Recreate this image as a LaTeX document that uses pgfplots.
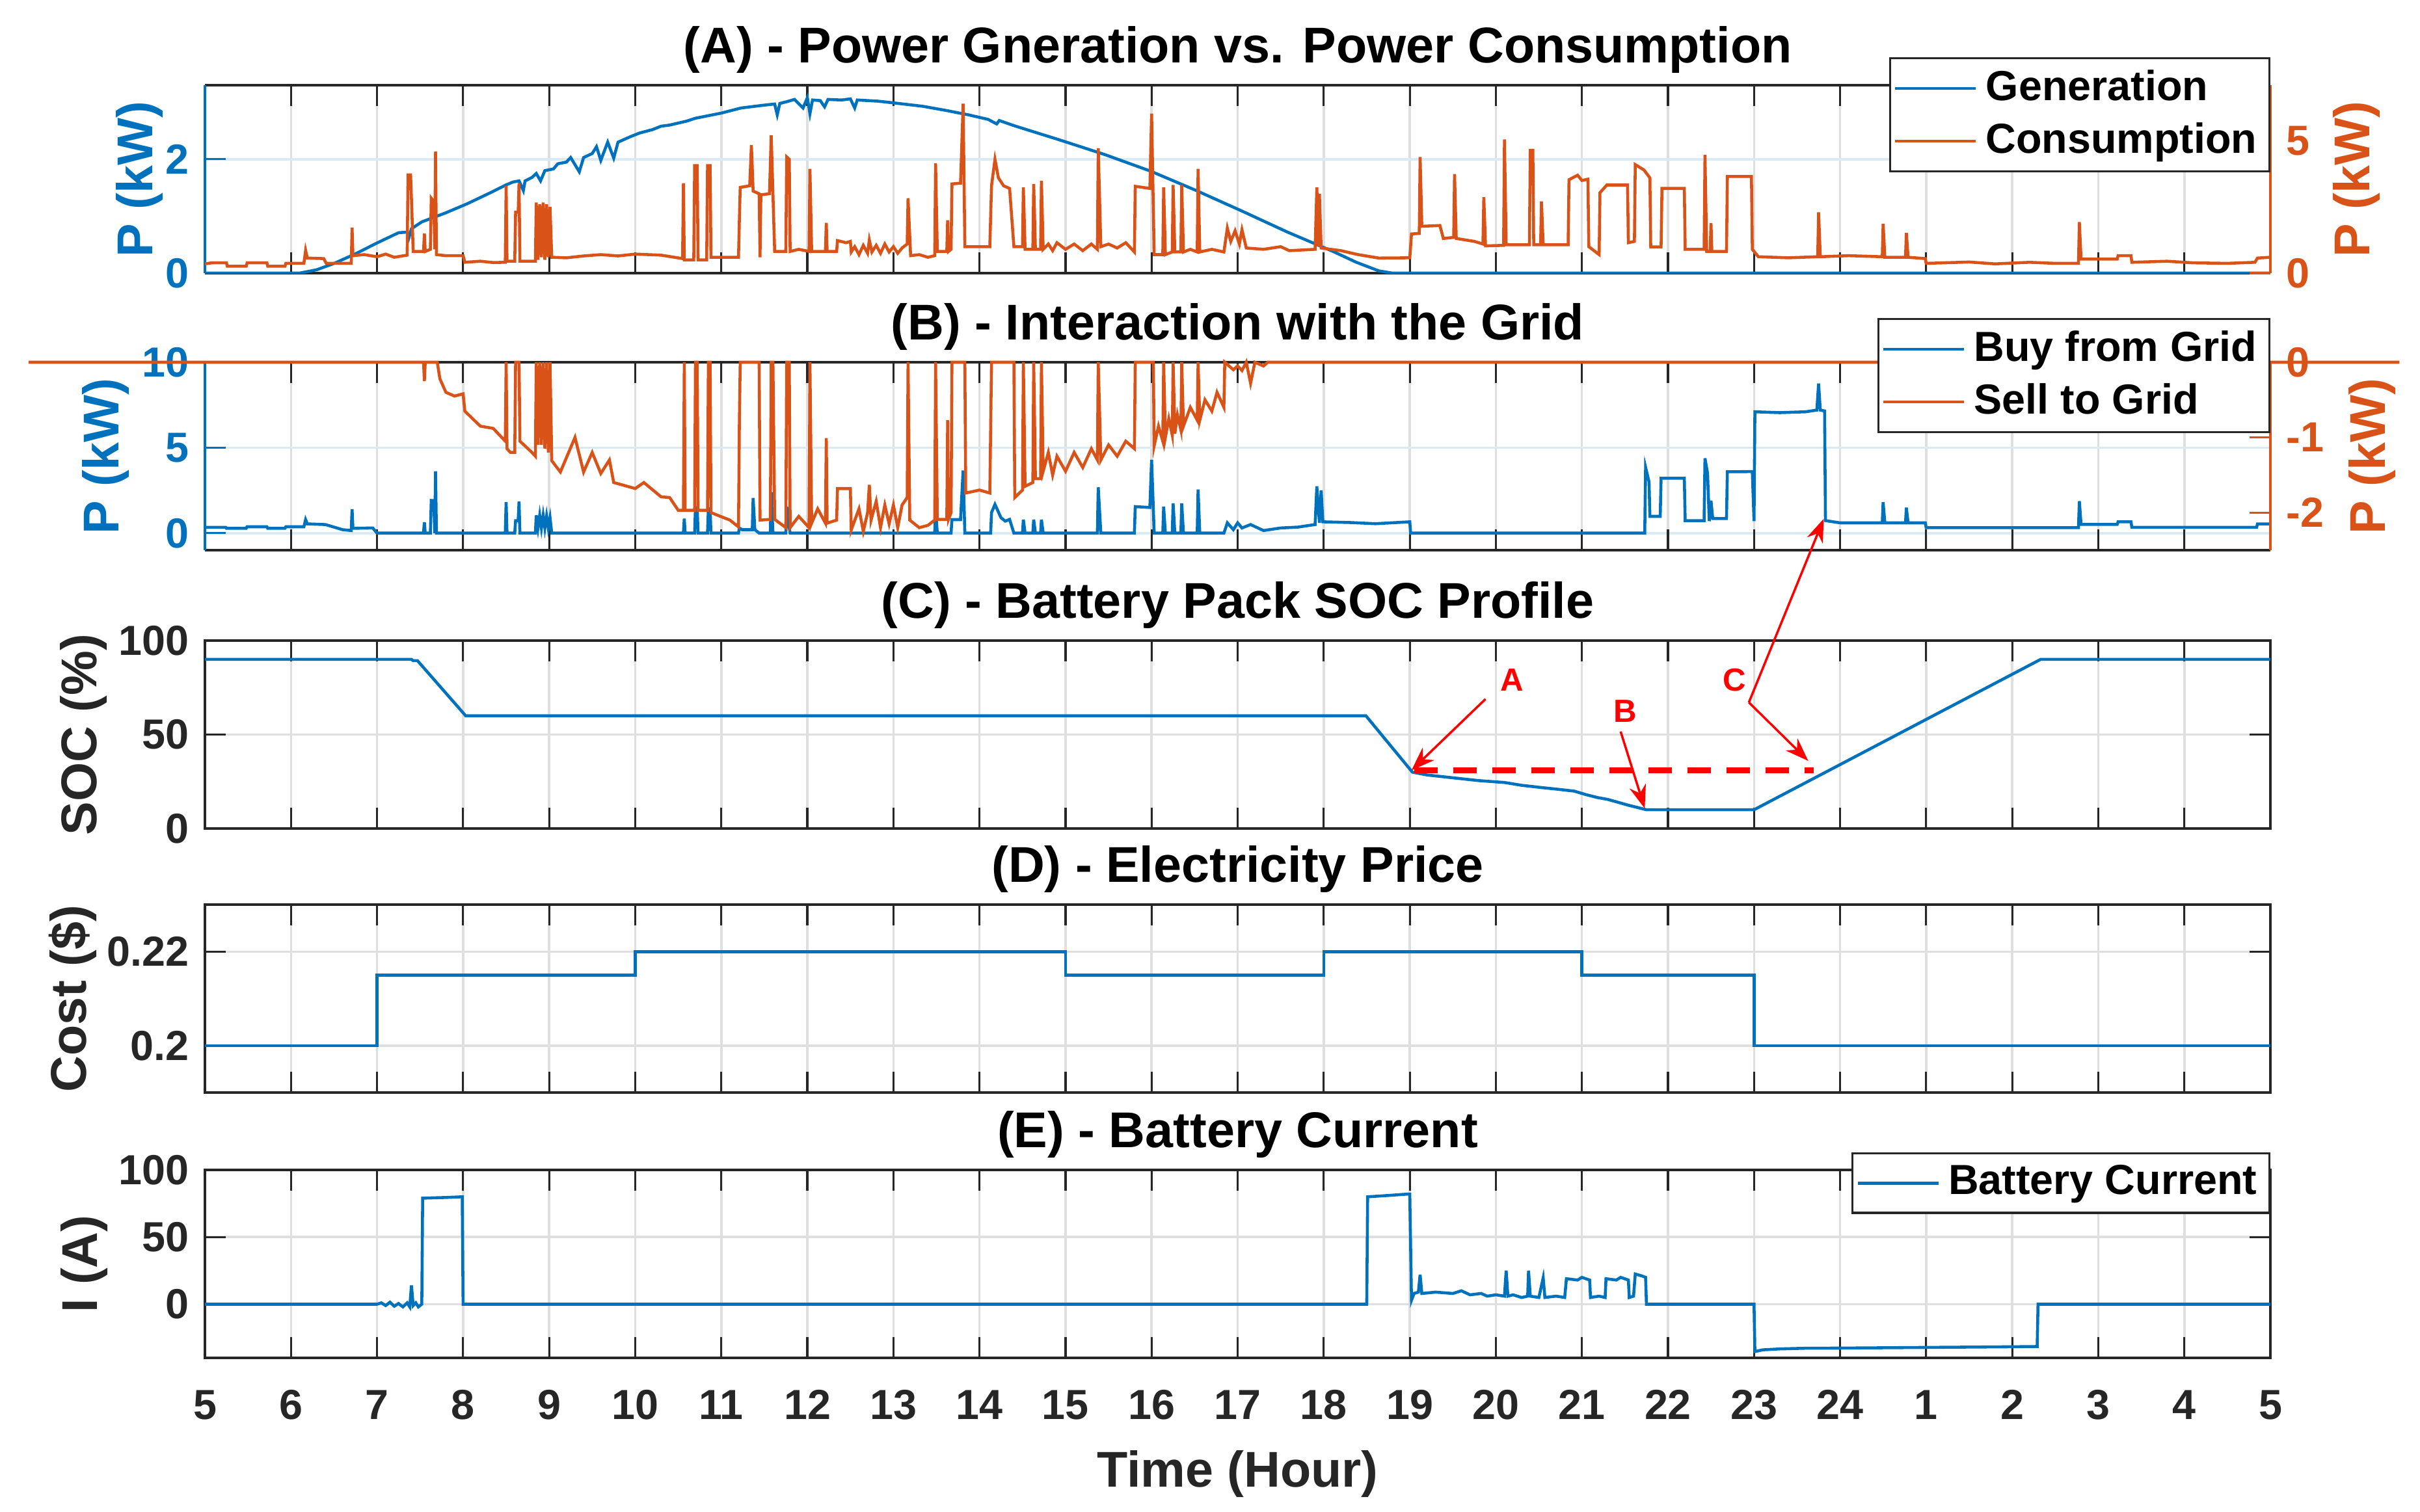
\documentclass[border=0pt]{standalone}
\usepackage{fontspec}
\setmainfont{Liberation Sans}
\usepackage{pgfplots}
\pgfplotsset{compat=1.18}
\usetikzlibrary{arrows.meta}

\definecolor{mblue}{rgb}{0,0.447,0.741}
\definecolor{morange}{rgb}{0.85,0.325,0.098}
\definecolor{axgray}{rgb}{0.15,0.15,0.15}
\definecolor{gridgray}{HTML}{DFDFDF}
\definecolor{gridblue}{HTML}{D9EAF5}

\pgfplotsset{
  panel/.style={
    scale only axis, width=158.75mm, height=14.45mm, anchor=south west,
    xmin=5, xmax=29, xtick={5,...,29}, xticklabels={},
    tick align=inside, major tick length=1.6mm,
    tick style={line width=0.45pt, color=axgray},
    axis line style={line width=0.45pt, draw=axgray},
    grid=major, grid style={line width=0.5pt, color=gridgray},
    tick label style={font=\fontsize{9.2}{11}\selectfont\bfseries, color=axgray},
    label style={font=\fontsize{11}{13}\selectfont\bfseries, color=axgray},
    ylabel style={inner sep=0pt},
    title style={font=\fontsize{11}{13}\selectfont\bfseries, at={(0.5,1)}, anchor=base, yshift=-0.4mm, color=black},
    legend style={at={(1,1)}, anchor=north east, draw=axgray, line width=0.45pt, fill=white,
      text=black, font=\fontsize{9.2}{11}\selectfont\bfseries,
      inner xsep=0.3mm, inner ysep=0.3mm, row sep=0pt,
      nodes={inner xsep=0.65mm, inner ysep=0.59mm}},
    legend cell align=left,
    legend image code/.code={\draw[#1] (0mm,0mm) -- (6.2mm,0mm);},
  },
  dline/.style={line width=0.65pt},
}

\begin{document}
\begin{tikzpicture}
\useasboundingbox (0,0) rectangle (186mm,116.2mm);

% ---------------- (A) generation vs consumption
\begin{axis}[panel, at={(15.75mm,95.2mm)},
  ymin=0, ymax=3.3, ytick={0,2}, yticklabels={0,2},
  axis x line*=box, axis y line*=left, separate axis lines,
  x axis line style={-}, y axis line style={-, draw=mblue},
  major y tick style={mblue}, yticklabel style={mblue},
  y grid style={gridblue},
  ylabel={P (kW)}, ylabel style={mblue, at={(axis description cs:-0.020,0.5)}, anchor=south},
  title={(A) - Power Gneration vs. Power Consumption}]
\addplot[mblue, dline] coordinates {
(5,0) (6.1,0) (6.3,0.06) (6.5,0.17) (6.75,0.34) (7.0,0.53) (7.25,0.71) (7.35,0.72) (7.37,0.62) (7.4,0.78)
(7.52,0.9) (7.8,1.06) (8.05,1.22) (8.3,1.4) (8.5,1.55) (8.58,1.6) (8.65,1.62) (8.7,1.45) (8.72,1.62)
(8.8,1.68) (8.85,1.75) (8.9,1.62) (8.95,1.8) (9.05,1.83) (9.1,1.92) (9.2,1.95) (9.25,2.03) (9.35,1.78)
(9.4,2.03) (9.5,2.1) (9.55,2.22) (9.6,1.98) (9.68,2.3) (9.75,2.02) (9.8,2.3) (9.95,2.4) (10.05,2.46)
(10.2,2.52) (10.3,2.58) (10.4,2.6) (10.6,2.67) (10.7,2.72) (11.0,2.81) (11.23,2.9) (11.5,2.95)
(11.62,2.97) (11.65,2.78) (11.68,2.98) (11.76,3.01) (11.85,3.05) (11.95,2.9) (12.0,3.08) (12.03,2.8)
(12.06,3.04) (12.15,3.03) (12.2,2.92) (12.24,3.05) (12.4,3.04) (12.5,3.06) (12.55,2.9) (12.58,3.04)
(12.82,3.02) (13.0,2.99) (13.34,2.93) (13.6,2.86) (13.87,2.78) (14.1,2.7) (14.2,2.62) (14.23,2.68)
(14.4,2.59) (14.93,2.34) (15.46,2.08) (15.99,1.79) (16.52,1.45) (17.05,1.09) (17.58,0.72) (18.11,0.38)
(18.38,0.19) (18.64,0.04) (18.8,0) (29,0)};
\end{axis}

\begin{axis}[panel, at={(15.75mm,95.2mm)}, hide x axis, grid=none,
  axis y line*=right, y axis line style={-, draw=morange},
  ymin=0, ymax=7.1, ytick={0,5}, yticklabels={0,5},
  major y tick style={morange}, yticklabel style={morange},
  ylabel={P (kW)}, ylabel style={morange, at={(axis description cs:1.0299,0.5)}, anchor=north},
  legend style={yshift=2.15mm}]
\addlegendimage{mblue, dline}
\addlegendentry{Generation}
\addplot[morange, dline] coordinates {
(5.0,0.35) (5.08,0.39) (5.25,0.39) (5.26,0.26) (5.48,0.26) (5.49,0.39) (5.72,0.39) (5.73,0.26) (5.93,0.26)
(5.94,0.37) (6.15,0.37) (6.17,0.86) (6.19,0.57) (6.38,0.55) (6.41,0.37) (6.70,0.37) (6.71,1.72) (6.72,0.66)
(6.85,0.7) (7.0,0.62) (7.1,0.72) (7.2,0.6) (7.35,0.68) (7.36,3.71) (7.39,3.71) (7.40,2.8) (7.42,0.82)
(7.54,0.82) (7.55,1.5) (7.56,0.82) (7.62,0.9) (7.63,2.83) (7.66,2.7) (7.67,0.9) (7.68,4.6) (7.69,0.7)
(7.8,0.66) (8.0,0.66) (8.02,0.41) (8.2,0.45) (8.35,0.4) (8.49,0.41) (8.50,3.3) (8.51,0.45) (8.60,0.45)
(8.61,2.3) (8.64,2.3) (8.65,3.4) (8.66,0.45) (8.84,0.45) (8.85,2.67) (8.87,0.5) (8.89,2.6) (8.91,0.6)
(8.93,2.67) (8.95,0.5) (8.97,2.6) (8.99,0.6) (9.01,2.5) (9.03,0.6) (9.2,0.58) (9.4,0.65) (9.6,0.7)
(9.8,0.65) (10.0,0.72) (10.3,0.68) (10.55,0.55) (10.56,3.4) (10.57,0.5) (10.68,0.5) (10.69,4.06)
(10.72,4.06) (10.73,0.5) (10.83,0.5) (10.84,4.06) (10.87,4.06) (10.88,0.6) (11.2,0.6) (11.21,2.0)
(11.22,3.24) (11.33,3.3) (11.35,4.84) (11.37,3.1) (11.44,3.0) (11.45,0.6) (11.46,2.96) (11.56,3.0)
(11.58,5.21) (11.60,3.0) (11.62,0.82) (11.75,0.82) (11.76,4.39) (11.79,4.3) (11.80,0.82) (11.9,0.9)
(12.02,0.82) (12.03,3.94) (12.05,0.82) (12.21,0.82) (12.22,1.9) (12.23,0.82) (12.34,0.82) (12.35,1.23)
(12.45,1.15) (12.5,1.2) (12.51,0.8) (12.55,1.0) (12.6,0.7) (12.65,1.05) (12.7,0.75) (12.72,1.25)
(12.75,0.8) (12.8,1.05) (12.85,0.75) (12.9,1.1) (12.95,0.8) (13.0,1.0) (13.05,0.75) (13.1,0.95)
(13.16,1.1) (13.17,2.83) (13.2,0.66) (13.3,0.7) (13.4,0.6) (13.48,0.66) (13.49,4.15) (13.51,0.82)
(13.62,0.82) (13.63,2.0) (13.64,0.82) (13.67,0.9) (13.68,3.37) (13.78,3.4) (13.81,6.4) (13.83,1.0)
(14.12,1.0) (14.14,3.3) (14.18,4.3) (14.22,3.6) (14.28,3.3) (14.35,3.2) (14.40,1.0) (14.5,1.0)
(14.51,3.24) (14.53,0.9) (14.62,0.9) (14.63,3.37) (14.65,0.9) (14.71,0.9) (14.72,3.49) (14.74,0.9)
(14.8,1.1) (14.85,0.85) (14.9,1.15) (15.0,0.9) (15.1,1.1) (15.2,0.85) (15.3,1.1) (15.37,0.9)
(15.38,4.72) (15.41,1.0) (15.5,1.1) (15.6,0.95) (15.7,1.15) (15.8,0.8) (15.81,3.28) (15.98,3.2)
(16.0,6.03) (16.03,0.7) (16.13,0.7) (16.14,3.24) (16.16,0.7) (16.24,0.8) (16.25,3.33) (16.27,0.8)
(16.34,0.8) (16.35,3.33) (16.37,0.8) (16.45,0.9) (16.53,0.8) (16.54,3.94) (16.56,0.8) (16.7,0.9)
(16.84,0.8) (16.88,1.7) (16.92,1.2) (16.97,1.6) (17.02,1.1) (17.05,1.64) (17.1,0.95) (17.3,0.9)
(17.5,1.0) (17.6,0.85) (17.9,0.9) (17.92,3.24) (17.94,1.0) (17.95,3.0) (17.97,0.95) (18.2,0.85)
(18.4,0.7) (18.64,0.57) (19.0,0.58) (19.02,1.48) (19.11,1.5) (19.12,4.39) (19.14,1.77) (19.35,1.8)
(19.39,1.31) (19.51,1.35) (19.52,3.74) (19.54,1.31) (19.75,1.2) (19.85,1.1) (19.86,2.87) (19.88,1.03)
(20.09,1.05) (20.10,5.05) (20.12,1.07) (20.39,1.07) (20.40,4.64) (20.43,4.64) (20.44,1.07) (20.52,1.07)
(20.53,2.71) (20.55,1.07) (20.84,1.07) (20.85,3.53) (20.95,3.7) (21.0,3.5) (21.07,3.55) (21.08,1.0)
(21.20,0.7) (21.21,3.04) (21.29,3.33) (21.53,3.33) (21.54,1.15) (21.61,1.2) (21.62,4.1) (21.72,3.9)
(21.79,3.6) (21.80,0.99) (21.92,0.99) (21.93,3.2) (22.19,3.2) (22.20,0.9) (22.42,0.9) (22.43,4.47)
(22.45,0.82) (22.49,0.82) (22.50,1.89) (22.51,0.82) (22.68,0.82) (22.69,3.65) (22.97,3.65) (22.98,0.9)
(23.05,0.62) (23.4,0.58) (23.74,0.62) (23.75,2.3) (23.77,0.62) (24.1,0.66) (24.49,0.62) (24.50,1.86)
(24.52,0.6) (24.76,0.6) (24.77,1.52) (24.79,0.6) (24.99,0.55) (25.0,0.37) (25.5,0.42) (25.8,0.35)
(26.2,0.41) (26.5,0.37) (26.77,0.37) (26.78,1.93) (26.80,0.53) (27.22,0.53) (27.23,0.66) (27.38,0.66)
(27.39,0.41) (27.8,0.45) (28.1,0.39) (28.5,0.37) (28.82,0.41) (28.85,0.57) (29.0,0.6)};
\addlegendentry{Consumption}
\end{axis}

% ---------------- (B) interaction with the grid
\begin{axis}[panel, at={(15.75mm,73.9mm)},
  ymin=-1, ymax=10, ytick={0,5,10}, yticklabels={0,5,10},
  axis x line*=box, axis y line*=left, separate axis lines,
  x axis line style={-}, y axis line style={-, draw=mblue},
  major y tick style={mblue}, yticklabel style={mblue},
  y grid style={gridblue},
  ylabel={P (kW)}, ylabel style={mblue, at={(axis description cs:-0.0362,0.5)}, anchor=south},
  title={(B) - Interaction with the Grid}]
\addplot[mblue, dline] coordinates {
(5.0,0.34) (5.24,0.34) (5.25,0.28) (5.48,0.28) (5.49,0.37) (5.72,0.37) (5.73,0.28) (5.93,0.28) (5.94,0.37)
(6.15,0.37) (6.17,0.79) (6.19,0.54) (6.4,0.5) (6.6,0.2) (6.70,0.15) (6.71,1.4) (6.72,0.28) (6.95,0.3)
(7.0,0) (7.54,0) (7.55,0.64) (7.56,0) (7.62,0) (7.63,1.91) (7.66,1.9) (7.67,0) (7.68,3.62) (7.69,0)
(8.49,0) (8.50,1.81) (8.51,0) (8.60,0) (8.61,0.73) (8.64,0.73) (8.65,1.85) (8.66,0) (8.84,0) (8.85,1.04)
(8.87,0.3) (8.89,1.04) (8.91,0.3) (8.93,1.04) (8.95,0.3) (8.97,1.0) (8.99,0.3) (9.01,0.9) (9.03,0)
(10.56,0) (10.57,0.85) (10.58,0) (10.69,0) (10.70,1.49) (10.72,1.49) (10.73,0) (10.84,0) (10.85,1.43)
(10.87,1.43) (10.88,0) (11.2,0) (11.21,0.3) (11.24,0.2) (11.36,0.2) (11.37,2.06) (11.39,0.2) (11.44,0)
(11.57,0) (11.58,2.38) (11.60,0) (11.75,0) (11.76,1.55) (11.79,0.3) (11.80,0) (13.48,0) (13.49,1.36)
(13.51,0) (13.67,0) (13.68,0.79) (13.78,0.79) (13.81,3.66) (13.83,0) (14.13,0) (14.14,1.2) (14.18,1.68)
(14.25,0.9) (14.3,0.7) (14.35,0.8) (14.40,0) (14.50,0) (14.51,0.79) (14.53,0) (14.62,0) (14.63,0.79)
(14.65,0) (14.71,0) (14.72,0.79) (14.74,0) (15.37,0) (15.38,2.68) (15.41,0) (15.80,0) (15.81,1.55)
(15.98,1.5) (16.00,4.29) (16.03,0) (16.13,0) (16.14,1.55) (16.16,0) (16.24,0) (16.25,1.74) (16.27,0)
(16.34,0) (16.35,1.74) (16.37,0) (16.53,0) (16.54,2.55) (16.56,0) (16.84,0) (16.88,0.6) (16.95,0.2)
(17.0,0.6) (17.05,0.3) (17.15,0.5) (17.3,0.15) (17.5,0.3) (17.7,0.35) (17.9,0.5) (17.92,2.74)
(17.95,0.6) (17.97,2.5) (17.99,0.66) (18.3,0.62) (18.6,0.55) (19.0,0.66) (19.01,0) (21.73,0)
(21.74,3.85) (21.78,3.0) (21.79,0.98) (21.91,0.98) (21.92,3.21) (22.19,3.21) (22.20,0.73) (22.42,0.73)
(22.43,4.38) (22.46,3.5) (22.48,0.7) (22.50,1.9) (22.52,0.85) (22.68,0.85) (22.69,3.59) (22.98,3.6)
(23.0,0.7) (23.01,7.1) (23.3,7.05) (23.6,7.1) (23.73,7.2) (23.75,8.75) (23.77,7.2) (23.82,7.15)
(23.83,0.73) (24.0,0.6) (24.49,0.6) (24.50,1.81) (24.52,0.6) (24.76,0.6) (24.77,1.49) (24.79,0.6)
(24.99,0.6) (25.0,0.32) (26.77,0.32) (26.78,1.87) (26.80,0.51) (27.22,0.51) (27.23,0.66) (27.38,0.66)
(27.39,0.34) (28.84,0.34) (28.85,0.54) (29.0,0.54)};
\coordinate (bArrow) at (axis cs:23.81,0.84);
\end{axis}

\begin{axis}[panel, at={(15.75mm,73.9mm)}, hide x axis, grid=none, clip=false,
  axis y line*=right, y axis line style={-, draw=morange},
  ymin=-2.5, ymax=0, ytick={-2,-1,0}, yticklabels={-2,-1,0},
  major y tick style={morange}, yticklabel style={morange},
  ylabel={P (kW)}, ylabel style={morange, at={(axis description cs:1.0375,0.5)}, anchor=north},
  legend style={yshift=3.4mm}]
\addlegendimage{mblue, dline}
\addlegendentry{Buy from Grid}
\addplot[morange, dline] coordinates {
(2.95,0) (7.54,0) (7.55,-0.25) (7.56,0) (7.70,0) (7.73,-0.22) (7.8,-0.4) (7.9,-0.45) (8.0,-0.42)
(8.02,-0.65) (8.1,-0.74) (8.2,-0.85) (8.35,-0.88) (8.49,-1.05) (8.50,0) (8.51,-1.15) (8.55,-1.2)
(8.60,-1.2) (8.61,0) (8.65,0) (8.66,-1.05) (8.8,-1.2) (8.84,-1.25) (8.85,0) (8.87,-1.1) (8.89,0)
(8.91,-1.1) (8.93,0) (8.95,-1.15) (8.97,0) (8.99,-1.2) (9.01,0) (9.03,-1.31) (9.13,-1.46) (9.3,-1.0)
(9.4,-1.46) (9.5,-1.2) (9.6,-1.48) (9.7,-1.3) (9.75,-1.6) (10.0,-1.68) (10.1,-1.6) (10.3,-1.79)
(10.4,-1.8) (10.5,-1.97) (10.56,-1.97) (10.57,0) (10.58,-1.97) (10.69,-1.97) (10.70,0) (10.72,0)
(10.73,-1.97) (10.84,-1.97) (10.85,0) (10.87,0) (10.88,-2.0) (11.1,-2.1) (11.2,-2.19) (11.21,-0.81)
(11.22,0) (11.44,0) (11.45,-2.1) (11.57,-2.09) (11.58,0) (11.60,0) (11.62,-2.09) (11.75,-2.2) (11.76,0)
(11.79,0) (11.80,-2.2) (11.9,-2.05) (12.02,-2.2) (12.03,0) (12.05,-2.14) (12.12,-1.95) (12.21,-2.14)
(12.22,-1.01) (12.23,-2.14) (12.34,-2.1) (12.35,-1.68) (12.50,-1.68) (12.51,-2.23) (12.6,-1.95)
(12.65,-2.25) (12.7,-2.0) (12.72,-1.63) (12.74,-2.1) (12.8,-1.85) (12.85,-2.2) (12.9,-1.9)
(12.95,-2.15) (13.0,-1.9) (13.05,-2.2) (13.1,-1.9) (13.16,-1.8) (13.17,0) (13.19,-2.1) (13.3,-2.2)
(13.4,-2.17) (13.48,-2.1) (13.49,0) (13.51,-2.09) (13.62,-2.09) (13.63,-0.77) (13.64,-2.09)
(13.67,-2.0) (13.68,0) (13.83,0) (13.84,-1.74) (14.0,-1.7) (14.12,-1.74) (14.14,0) (14.40,0)
(14.41,-1.8) (14.50,-1.7) (14.51,0) (14.53,-1.65) (14.62,-1.6) (14.63,0) (14.65,-1.55) (14.71,-1.55)
(14.72,0) (14.74,-1.45) (14.8,-1.2) (14.85,-1.5) (14.9,-1.25) (15.0,-1.45) (15.1,-1.2) (15.2,-1.4)
(15.3,-1.15) (15.37,-1.3) (15.38,0) (15.41,-1.3) (15.5,-1.1) (15.6,-1.25) (15.7,-1.05) (15.80,-1.15)
(15.81,0) (16.02,0) (16.03,-1.11) (16.08,-0.85) (16.13,-1.05) (16.14,0) (16.16,-1.0) (16.2,-0.75)
(16.24,-0.97) (16.25,0) (16.27,-0.95) (16.3,-0.7) (16.34,-0.9) (16.35,0) (16.37,-0.85) (16.45,-0.6)
(16.53,-0.77) (16.54,0) (16.56,-0.77) (16.62,-0.5) (16.7,-0.65) (16.76,-0.4) (16.84,-0.6) (16.85,0)
(16.95,-0.1) (17.0,-0.05) (17.05,-0.11) (17.1,0) (17.15,-0.28) (17.2,0) (17.3,-0.05) (17.35,0) (30.5,0)};
\addlegendentry{Sell to Grid}
\end{axis}

% ---------------- (C) SOC
\begin{axis}[panel, at={(15.75mm,52.5mm)},
  ymin=0, ymax=100, ytick={0,50,100}, yticklabels={0,50,100},
  ylabel={SOC (\%)}, ylabel style={at={(axis description cs:-0.0469,0.5)}, anchor=south},
  title={(C) - Battery Pack SOC Profile}]
\addplot[mblue, dline] coordinates {
(5,90) (7.40,90) (7.42,89.3) (7.47,89.3) (8.03,60) (18.49,60) (19.03,30) (19.2,28.5) (19.5,27)
(19.8,25.5) (20.1,24.5) (20.3,23) (20.55,21.7) (20.7,21) (20.91,19.9) (21.05,18) (21.18,16.5)
(21.3,15.5) (21.54,12.4) (21.75,10) (23.0,10) (26.33,90) (29,90)};
\addplot[red, line width=1.4pt, dash pattern=on 1.8mm off 1.2mm] coordinates {(19.05,31) (23.69,31)};
\node[red, font=\fontsize{7}{8}\selectfont\bfseries] at (axis cs:20.19,78.9) {A};
\node[red, font=\fontsize{7}{8}\selectfont\bfseries] at (axis cs:21.5,62.3) {B};
\node[red, font=\fontsize{7}{8}\selectfont\bfseries] at (axis cs:22.77,78.9) {C};
\coordinate (a0) at (axis cs:19.88,68.9);
\coordinate (a1) at (axis cs:19.02,31);
\coordinate (b0) at (axis cs:21.45,51.6);
\coordinate (b1) at (axis cs:21.73,10.7);
\coordinate (c0) at (axis cs:22.94,67.1);
\coordinate (c1) at (axis cs:23.63,36);
\end{axis}
\begin{scope}[red, line width=0.5pt, -{Stealth[length=1.8mm, width=1.3mm]}]
\draw (a0) -- (a1);
\draw (b0) -- (b1);
\draw (c0) -- (c1);
\draw (c0) -- (bArrow);
\end{scope}

% ---------------- (D) price
\begin{axis}[panel, at={(15.75mm,32.2mm)},
  ymin=0.19, ymax=0.23, ytick={0.2,0.22}, yticklabels={0.2,0.22},
  ylabel={Cost (\$)}, ylabel style={at={(axis description cs:-0.0519,0.5)}, anchor=south},
  title={(D) - Electricity Price}]
\addplot[mblue, dline] coordinates {
(5,0.2) (7,0.2) (7,0.215) (10,0.215) (10,0.22) (15,0.22) (15,0.215) (18,0.215) (18,0.22) (21,0.22)
(21,0.215) (23,0.215) (23,0.2) (29,0.2)};
\end{axis}

% ---------------- (E) battery current
\begin{axis}[panel, at={(15.75mm,11.8mm)},
  ymin=-40, ymax=100, ytick={0,50,100}, yticklabels={0,50,100},
  xticklabels={5,6,7,8,9,10,11,12,13,14,15,16,17,18,19,20,21,22,23,24,1,2,3,4,5},
  xticklabel style={anchor=base, yshift=-4.7mm},
  xlabel={Time (Hour)}, xlabel style={at={(axis description cs:0.5,0)}, anchor=base, yshift=-9.9mm},
  ylabel={I (A)}, ylabel style={at={(axis description cs:-0.0466,0.5)}, anchor=south},
  title={(E) - Battery Current},
  legend style={yshift=1.35mm}]
\addplot[mblue, dline] coordinates {
(5,0) (7.0,0) (7.05,1) (7.1,-1) (7.15,1.5) (7.2,-1.5) (7.25,0.5) (7.3,-2) (7.35,1) (7.38,-2) (7.40,14)
(7.42,-1) (7.45,1) (7.48,-2) (7.52,0) (7.53,79) (7.8,79.5) (7.99,80) (8.0,0) (18.5,0) (18.51,80)
(18.75,81) (18.97,82) (19.0,82) (19.02,3) (19.05,8) (19.1,9) (19.12,22) (19.14,8) (19.3,9) (19.5,8)
(19.6,10) (19.7,7) (19.83,8) (19.9,6) (20.0,7) (20.1,6) (20.12,25) (20.14,6) (20.2,7) (20.3,5)
(20.37,6) (20.38,25) (20.40,6) (20.5,5) (20.55,19.6) (20.57,5) (20.7,6) (20.8,5) (20.82,19) (20.95,18)
(21.0,20) (21.09,18) (21.1,5) (21.2,6) (21.27,5) (21.28,19) (21.4,18) (21.45,20) (21.54,18) (21.55,5)
(21.6,6) (21.62,22.5) (21.7,21) (21.74,20) (21.75,0) (23.0,0) (23.01,-35.3) (23.1,-34) (23.3,-33.3)
(23.6,-32.8) (24,-32.7) (25,-32.2) (26,-31.7) (26.29,-31.5) (26.30,0) (29,0)};
\addlegendentry{Battery Current}
\end{axis}
\end{tikzpicture}
\end{document}
